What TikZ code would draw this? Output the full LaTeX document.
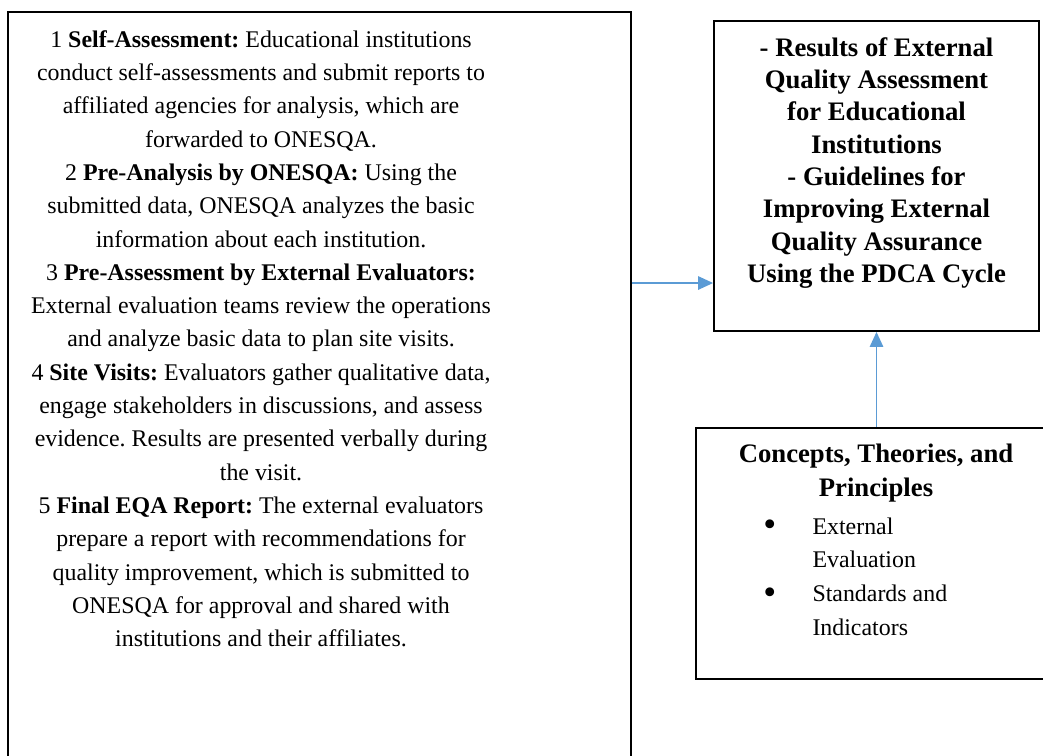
\documentclass[tikz,border=0pt]{standalone}
\usepackage{fontspec}
\setmainfont{Liberation Serif}
\usetikzlibrary{positioning,arrows.meta}

\definecolor{flowblue}{RGB}{91,155,213}

\tikzset{
  box/.style={draw, line width=1.1pt, inner sep=0pt},
  body/.style={align=center, inner sep=0pt, font=\fontsize{13.6}{18.95}\selectfont},
  heading/.style={body, font=\fontsize{15.2}{18.4}\selectfont\bfseries},
  flow/.style={draw=flowblue, line width=0.8pt, -{Triangle[length=0.3cm,width=0.27cm]}},
}
\newcommand{\bigdot}{\raisebox{-0.25ex}{\fontsize{21}{19}\selectfont\textbullet}}
\frenchspacing

\begin{document}
\begin{tikzpicture}[x=0.02cm,y=0.02cm]
\useasboundingbox (0,0) rectangle (1043,-755);

% the three frames
\node[box, minimum width=12.46cm, minimum height=14.96cm] (steps) at (319.5,-386) {};
\node[box, minimum width=6.5cm, minimum height=6.2cm] (results) at (876.5,-176) {};
\node[box, minimum width=7cm, minimum height=5.02cm] (concepts) at (871,-553.5) {};

% procedure
\node[body, anchor=north] (stepstext) at ([xshift=-1.17cm,yshift=-0.38cm]steps.north) {%
1 \textbf{Self-Assessment:} Educational institutions\\
conduct self-assessments and submit reports to\\
affiliated agencies for analysis, which are\\
forwarded to ONESQA.\\
2 \textbf{Pre-Analysis by ONESQA:} Using the\\
submitted data, ONESQA analyzes the basic\\
information about each institution.\\
3 \textbf{Pre-Assessment by External Evaluators:}\\
External evaluation teams review the operations\\
and analyze basic data to plan site visits.\\
4 \textbf{Site Visits:} Evaluators gather qualitative data,\\
engage stakeholders in discussions, and assess\\
evidence. Results are presented verbally during\\
the visit.\\
5 \textbf{Final EQA Report:} The external evaluators\\
prepare a report with recommendations for\\
quality improvement, which is submitted to\\
ONESQA for approval and shared with\\
institutions and their affiliates.};

% outputs
\node[heading, anchor=north] (resultstext) at ([yshift=-0.34cm]results.north) {%
- Results of External\\
Quality Assessment\\
for Educational\\
Institutions\\
- Guidelines for\\
Improving External\\
Quality Assurance\\
Using the PDCA Cycle};

% background
\node[heading, anchor=north, font=\fontsize{15.2}{19}\selectfont\bfseries] (conceptstitle) at ([xshift=0.1cm,yshift=-0.34cm]concepts.north) {%
Concepts, Theories, and\\
Principles};
\node[body, align=left, anchor=north west, font=\fontsize{13.6}{19.2}\selectfont] (conceptslist) at ([xshift=1.36cm,yshift=-1.66cm]concepts.north west) {%
\begin{tabular}{@{}p{0.56cm}l@{}}
\bigdot & External\\
        & Evaluation\\
\bigdot & Standards and\\
        & Indicators
\end{tabular}};

\coordinate (feed) at (0,-283);
\draw[flow] (steps.east |- feed) -- (results.west |- feed);
\draw[flow] (concepts.north -| results.south) -- (results.south);
\end{tikzpicture}
\end{document}
